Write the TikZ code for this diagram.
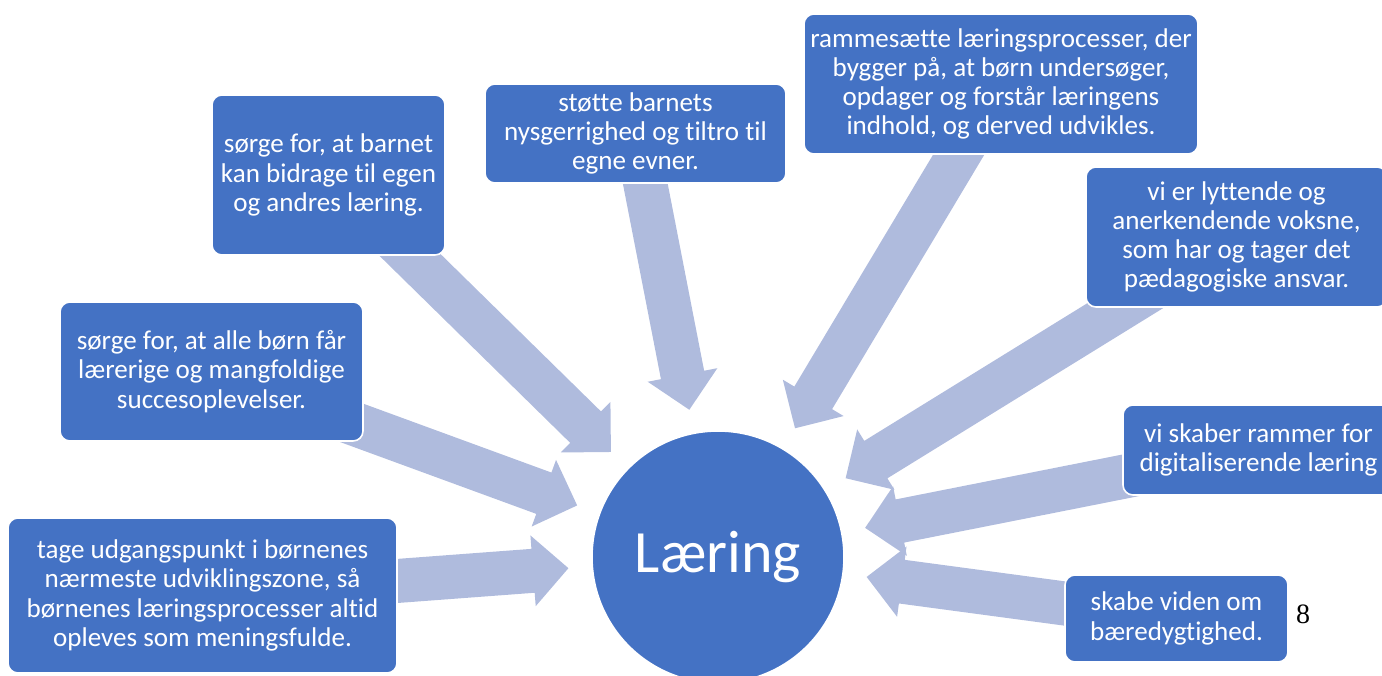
\documentclass[tikz,border=0pt]{standalone}
\usepackage{fontspec}
\setmainfont{Carlito}[Ligatures=NoCommon]
\newfontfamily\numfont{Liberation Serif}
\usetikzlibrary{calc}
\pgfdeclarelayer{bg}
\pgfsetlayers{bg,main}
\definecolor{boxblue}{HTML}{4472C4}
\definecolor{arrowblue}{HTML}{AFBBDD}
\newcommand{\blockarr}[1]{%
  \coordinate (T) at ($(C.center)!112.5pt!(#1.center)$);
  \coordinate (H) at ($(C.center)!139.1pt!(#1.center)$);
  \fill[arrowfill] ($(#1.center)!16.5pt!-90:(C.center)$)
    -- ($(H)!16.5pt!90:(#1.center)$)
    -- ($(H)!26.6pt!90:(#1.center)$)
    -- (T)
    -- ($(H)!26.6pt!-90:(#1.center)$)
    -- ($(H)!16.5pt!-90:(#1.center)$)
    -- ($(#1.center)!16.5pt!90:(C.center)$) -- cycle;
}
\begin{document}
\begin{tikzpicture}[x=0.75pt,y=-0.75pt,
  box/.style={rectangle, rounded corners=7.5pt, fill=boxblue, draw=white,
    line width=1.2pt, text=white, align=center, inner sep=0pt,
    font=\fontsize{20.3}{21.9}\selectfont},
  arrowfill/.style={fill=arrowblue}]
\useasboundingbox (0,0) rectangle (1382,675);
\node[circle, fill=boxblue, draw=white, line width=1.2pt, minimum size=189pt,
  inner sep=0pt, text=white, font=\fontsize{45}{54}\selectfont] (C) at (718,557) {Læring};
\node[box, minimum width=174.75pt, minimum height=120pt] (b1) at (328.5,175)
  {sørge for, at barnet\\kan bidrage til egen\\og andres læring.};
\node[box, minimum width=225.75pt, minimum height=74.25pt] (b2) at (635.5,133.5)
  {støtte barnets\\nysgerrighed og tiltro til\\egne evner.};
\node[box, minimum width=295.5pt, minimum height=105pt] (b3) at (1001,84)
  {rammesætte læringsprocesser, der\\bygger på, at børn undersøger,\\opdager og forstår læringens\\indhold, og derved udvikles.};
\node[box, minimum width=225.75pt, minimum height=105pt] (b4) at (1236.5,237)
  {vi er lyttende og\\anerkendende voksne,\\som har og tager det\\pædagogiske ansvar.};
\node[box, minimum width=203.25pt, minimum height=67.5pt] (b5) at (1258.5,450)
  {vi skaber rammer for\\digitaliserende læring};
\node[box, minimum width=167.25pt, minimum height=65.25pt] (b6) at (1176.5,618.5)
  {skabe viden om\\bæredygtighed.};
\node[box, minimum width=227.25pt, minimum height=104.25pt] (b7) at (211.5,371.5)
  {sørge for, at alle børn får\\lærerige og mangfoldige\\succesoplevelser.};
\node[box, minimum width=291.75pt, minimum height=116.25pt] (b8) at (202.5,595.5)
  {tage udgangspunkt i børnenes\\nærmeste udviklingszone, så\\børnenes læringsprocesser altid\\opleves som meningsfulde.};
\node[font=\numfont\fontsize{21}{25}\selectfont, inner sep=0pt] (pg) at (1303,614) {8};
\begin{pgfonlayer}{bg}
\foreach \b in {b1,b2,b3,b4,b5,b6,b7,b8} {\blockarr{\b}}
\end{pgfonlayer}
\end{tikzpicture}
\end{document}
